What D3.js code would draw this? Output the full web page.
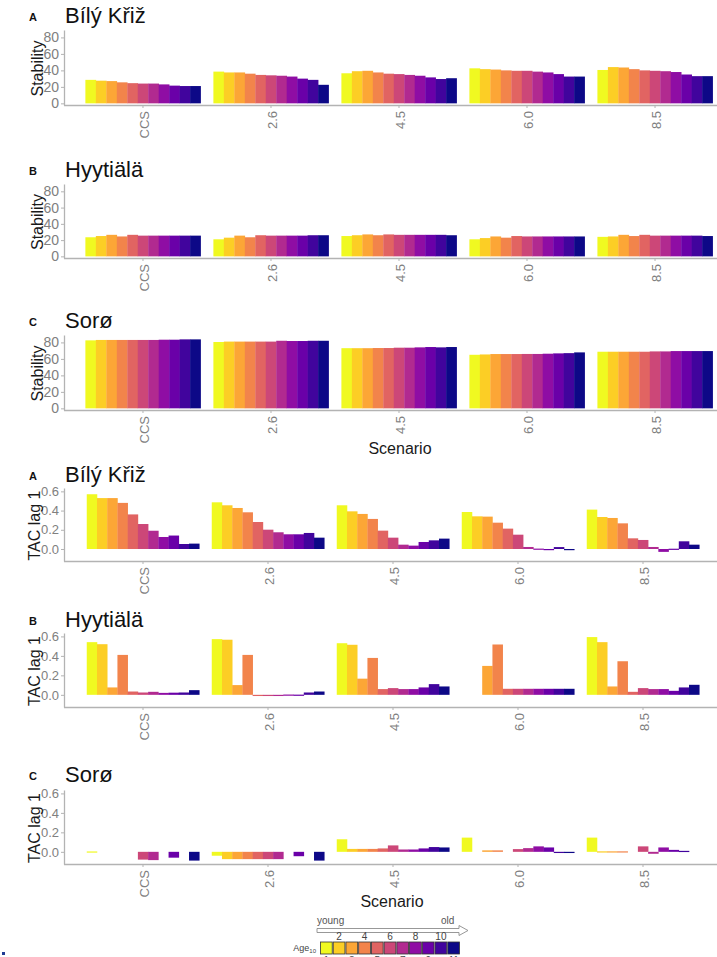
<!DOCTYPE html>
<html>
<head>
<meta charset="utf-8">
<script src="https://cdn.jsdelivr.net/npm/d3@7"></script>
<style>
  body { margin: 0; background: #fff; }
  svg { display: block; font-family: "Liberation Sans", Arial, sans-serif; }
  .axis path, .axis line { stroke: #b3b3b3; }
  .axis text { fill: #808080; }
</style>
</head>
<body>
<div id="chart"></div>
<script>
// Data
var scenarios = ["CCS", "2.6", "4.5", "6.0", "8.5"];
var ageClasses = [1, 2, 3, 4, 5, 6, 7, 8, 9, 10, 11];

// Stability, one row per scenario, one value per age class
var stabBily = [
  [28.5, 27.5, 27, 25.5, 24.5, 24, 24, 23, 21.5, 21, 21],
  [38.5, 37.5, 37.5, 36, 34.5, 34, 33.5, 32.5, 30, 28.5, 22.5],
  [36.5, 39, 39.5, 37.5, 36, 35.5, 34.5, 33.5, 31.5, 29.5, 30.5],
  [42.5, 41.5, 41, 40, 39.5, 39.5, 38.5, 37.5, 35.5, 32.5, 32.5],
  [40.5, 44, 43.5, 41.5, 40, 39.5, 39, 38, 35, 33, 33]
];
var stabHyy = [
  [23.5, 25, 26.5, 24.5, 26.5, 25.5, 25.5, 25.5, 25.5, 25.5, 25.5],
  [21, 23, 25.5, 23.5, 26, 25.5, 25.5, 25.5, 25.5, 26, 26],
  [25, 26, 27, 26, 27, 26.5, 26.5, 26.5, 26.5, 26.5, 26],
  [21, 22.5, 24.5, 23, 25, 24.5, 24.5, 24.5, 24.5, 24.5, 24.5],
  [24, 24.5, 26.5, 25, 26.5, 25.5, 25.5, 25.5, 25.5, 25.5, 25]
];
var stabSoro = [
  [82.5, 83, 83, 83, 83, 83, 83, 83.3, 83.3, 83.7, 83.7],
  [80.5, 81, 81, 81, 81, 81, 82, 81.7, 81.7, 82, 82],
  [73, 73, 73, 73.2, 73.2, 73.6, 73.6, 74, 74.4, 74, 74.4],
  [65, 65.4, 65.9, 65.9, 65.9, 66, 66, 66.3, 66.7, 67, 67.9],
  [68.7, 68.7, 68.7, 68.7, 68.7, 69.1, 69.1, 69.5, 69.5, 69.5, 69.5]
];

// TAC lag 1 (null = no bar)
var tacBily = [
  [0.57, 0.53, 0.53, 0.48, 0.36, 0.26, 0.19, 0.125, 0.14, 0.052, 0.056],
  [0.486, 0.455, 0.427, 0.382, 0.281, 0.201, 0.174, 0.153, 0.153, 0.167, 0.118],
  [0.455, 0.392, 0.365, 0.313, 0.191, 0.118, 0.045, 0.035, 0.073, 0.09, 0.108],
  [0.385, 0.34, 0.337, 0.274, 0.212, 0.149, 0.021, 0.004, -0.01, 0.02, -0.005],
  [0.41, 0.333, 0.323, 0.267, 0.111, 0.094, 0.021, -0.03, 0.003, 0.08, 0.045]
];
var tacHyy = [
  [0.541, 0.52, 0.076, 0.41, 0.034, 0.024, 0.031, 0.02, 0.022, 0.024, 0.048],
  [0.572, 0.566, 0.1, 0.41, -0.01, -0.005, -0.005, 0.003, 0.002, 0.024, 0.034],
  [0.53, 0.514, 0.166, 0.379, 0.059, 0.069, 0.059, 0.059, 0.076, 0.11, 0.086],
  [null, null, 0.297, 0.517, 0.062, 0.062, 0.062, 0.062, 0.062, 0.062, 0.062],
  [0.593, 0.541, 0.086, 0.345, 0.031, 0.069, 0.059, 0.059, 0.041, 0.076, 0.103]
];
var tacSoro = [
  [0.004, null, null, null, null, -0.08, -0.085, null, -0.06, null, -0.09],
  [-0.04, -0.075, -0.075, -0.075, -0.075, -0.075, -0.075, null, -0.045, null, -0.09],
  [0.129, 0.03, 0.03, 0.03, 0.035, 0.066, 0.024, 0.024, 0.035, 0.049, 0.045],
  [0.146, null, 0.015, 0.015, null, 0.028, 0.038, 0.056, 0.045, -0.006, -0.008],
  [0.146, 0.005, 0.005, 0.005, null, 0.056, -0.02, 0.045, 0.02, 0.01, null]
];

var stabTicks = [0, 20, 40, 60, 80];
var tacTicks = [0, 0.2, 0.4, 0.6];

// page layout
var svgWidth = 717;
var svgHeight = 957;
var axisLeft = 64;

var colors = d3.quantize(d3.interpolatePlasma, 11).reverse();
var color = d3.scaleOrdinal().domain(ageClasses).range(colors);

var svg = d3.select("#chart")
  .append("svg")
  .attr("width", svgWidth)
  .attr("height", svgHeight);

var panels = [
  {tag: "A", site: "Bílý Křiž", data: stabBily, kind: "stab", titleY: 23, top: 30, bottom: 105, xlab: false},
  {tag: "B", site: "Hyytiälä", data: stabHyy, kind: "stab", titleY: 177, top: 184, bottom: 258, xlab: false},
  {tag: "C", site: "Sorø", data: stabSoro, kind: "stab", titleY: 328, top: 335, bottom: 410, xlab: true},
  {tag: "A", site: "Bílý Křiž", data: tacBily, kind: "tac", titleY: 482, top: 488, bottom: 561, xlab: false},
  {tag: "B", site: "Hyytiälä", data: tacHyy, kind: "tac", titleY: 627, top: 633, bottom: 707, xlab: false},
  {tag: "C", site: "Sorø", data: tacSoro, kind: "tac", titleY: 782, top: 790, bottom: 864, xlab: true}
];

panels.forEach(function(p) {
  var isStab = p.kind === "stab";

  // band scale for the scenarios; stability panels are a little wider
  var x = d3.scaleBand()
    .domain(scenarios)
    .range(isStab ? [axisLeft, 734] : [axisLeft, 722])
    .paddingInner(0.1)
    .paddingOuter(isStab ? 0.167 : 0.182);

  var xAge = d3.scaleBand()
    .domain(ageClasses)
    .range([0, x.bandwidth()]);

  var y = d3.scaleLinear()
    .domain(isStab ? [-2, 89] : [-0.125, 0.635])
    .range([p.bottom, p.top]);

  var g = svg.append("g");

  // bars
  scenarios.forEach(function(s, si) {
    var rows = ageClasses.map(function(a, ai) {
      return {age: a, value: p.data[si][ai]};
    }).filter(function(d) { return d.value !== null; });

    g.append("g")
      .attr("transform", `translate(${x(s)},0)`)
      .selectAll("rect")
      .data(rows)
      .enter()
      .append("rect")
      .attr("x", d => xAge(d.age))
      .attr("width", xAge.bandwidth() + 0.3)
      .attr("y", d => Math.min(y(d.value), y(0)))
      .attr("height", d => Math.max(Math.abs(y(d.value) - y(0)), 1.2))
      .attr("fill", d => color(d.age));
  });

  // y axis
  var yAxis = g.append("g")
    .attr("class", "axis")
    .attr("transform", `translate(${axisLeft},0)`)
    .call(d3.axisLeft(y)
      .tickValues(isStab ? stabTicks : tacTicks)
      .tickFormat(isStab ? d3.format("d") : d3.format(".1f"))
      .tickSize(3)
      .tickPadding(2)
      .tickSizeOuter(0));
  yAxis.selectAll("text").attr("font-size", isStab ? 14 : 13);
  yAxis.select(".domain").attr("stroke-width", 1.3);

  // x axis
  var xAxis = g.append("g")
    .attr("class", "axis")
    .attr("transform", `translate(0,${p.bottom})`)
    .call(d3.axisBottom(x).tickSize(3).tickSizeOuter(0));
  xAxis.select(".domain").attr("d", `M${axisLeft},0.5H${svgWidth}`).attr("stroke-width", 1.3);
  xAxis.selectAll("text")
    .attr("font-size", 13)
    .attr("transform", "rotate(-90)")
    .attr("text-anchor", "end")
    .attr("x", -6)
    .attr("y", 0)
    .attr("dy", "0.45em");

  // y axis title
  g.append("text")
    .attr("transform", `translate(${isStab ? 43 : 40},${(p.top + p.bottom) / 2 + 1}) rotate(-90)`)
    .attr("text-anchor", "middle")
    .attr("font-size", 16)
    .attr("fill", "#1a1a1a")
    .text(isStab ? "Stability" : "TAC lag 1");

  // panel tag and title
  g.append("text")
    .attr("x", 29)
    .attr("y", p.titleY - 2)
    .attr("font-size", 11)
    .attr("font-weight", "bold")
    .attr("fill", "#111")
    .text(p.tag);

  g.append("text")
    .attr("x", 65)
    .attr("y", p.titleY)
    .attr("font-size", 22)
    .attr("fill", "#111")
    .text(p.site);

  if (p.xlab) {
    g.append("text")
      .attr("x", isStab ? 400 : 392)
      .attr("y", isStab ? 454 : 907)
      .attr("text-anchor", "middle")
      .attr("font-size", 16)
      .attr("fill", "#1a1a1a")
      .text("Scenario");
  }
});

// age legend at the bottom
var legend = svg.append("g");
var legX = d3.scaleBand()
  .domain(ageClasses)
  .range([320, 460]);

legend.append("text")
  .attr("x", 317).attr("y", 924)
  .attr("font-size", 10).attr("fill", "#555")
  .text("young");
legend.append("text")
  .attr("x", 441).attr("y", 924)
  .attr("font-size", 10).attr("fill", "#555")
  .text("old");

// hollow arrow young -> old
legend.append("path")
  .attr("d", "M317,928.5H459V925.5L468,930.5L459,935.5V932.5H317Z")
  .attr("fill", "#fff")
  .attr("stroke", "#8c8c8c")
  .attr("stroke-width", 0.9);

legend.selectAll("rect.key")
  .data(ageClasses)
  .enter()
  .append("rect")
  .attr("class", "key")
  .attr("x", d => legX(d) + 0.5)
  .attr("y", 942)
  .attr("width", legX.bandwidth() - 1)
  .attr("height", 12)
  .attr("fill", d => color(d))
  .attr("stroke", "#333")
  .attr("stroke-width", 0.8);

legend.selectAll("text.even")
  .data(ageClasses.filter(d => d % 2 === 0))
  .enter()
  .append("text")
  .attr("class", "even")
  .attr("x", d => legX(d) + legX.bandwidth() / 2)
  .attr("y", 940)
  .attr("text-anchor", "middle")
  .attr("font-size", 10)
  .attr("fill", "#444")
  .text(d => d);

// odd labels sit under the keys, mostly below the page edge as in the figure
legend.selectAll("text.odd")
  .data(ageClasses.filter(d => d % 2 === 1))
  .enter()
  .append("text")
  .attr("class", "odd")
  .attr("x", d => legX(d) + legX.bandwidth() / 2)
  .attr("y", 964)
  .attr("text-anchor", "middle")
  .attr("font-size", 10)
  .attr("fill", "#444")
  .text(d => d);

var ageLabel = legend.append("text")
  .attr("x", 316).attr("y", 951)
  .attr("text-anchor", "end")
  .attr("font-size", 9)
  .attr("fill", "#444");
ageLabel.append("tspan").text("Age");
ageLabel.append("tspan").attr("font-size", 6).attr("dy", 2).text("10");

// small mark in the bottom-left corner
svg.append("rect")
  .attr("x", 2).attr("y", 952)
  .attr("width", 3).attr("height", 3)
  .attr("fill", "#1f3a93");
</script>
</body>
</html>
